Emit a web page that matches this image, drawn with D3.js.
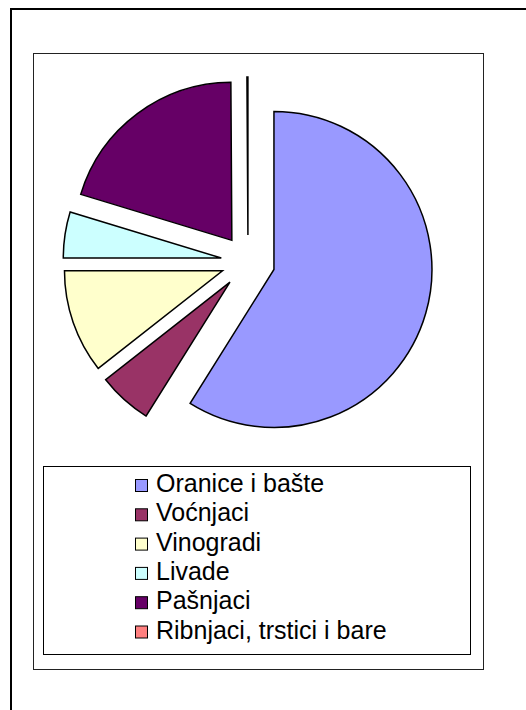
<!DOCTYPE html>
<html>
<head>
<meta charset="utf-8">
<script src="https://cdn.jsdelivr.net/npm/d3@7"></script>
<style>
  html, body { margin: 0; padding: 0; background: #fff; }
  svg { display: block; }
</style>
</head>
<body>
<svg id="chart" width="526" height="710"></svg>
<script>
const categories = ["Oranice i bašte", "Voćnjaci", "Vinogradi", "Livade", "Pašnjaci", "Ribnjaci, trstici i bare"];
const values = [58.9, 5.5, 10.6, 4.7, 20.2, 0.1];
const colors = ["#9999FF", "#993366", "#FFFFCC", "#CCFFFF", "#660066", "#FF8080"];

const svg = d3.select("#chart");

// outer chart frame
svg.append("rect").attr("x", 11).attr("y", 9).attr("width", 560).attr("height", 760)
  .attr("fill", "#fff").attr("stroke", "#000").attr("stroke-width", 2);

// plot area
svg.append("rect").attr("x", 33.5).attr("y", 53.5).attr("width", 450).attr("height", 616)
  .attr("fill", "#fff").attr("stroke", "#222").attr("stroke-width", 1);

const cx = 248, cy = 262, r = 158, explode = 27;
const pie = d3.pie().sort(null).value(d => d);
const arc = d3.arc().innerRadius(0).outerRadius(r);
const arcs = pie(values);

const g = svg.append("g").attr("transform", `translate(${cx},${cy})`);
g.selectAll("path").data(arcs).enter().append("path")
  .attr("d", arc)
  .attr("transform", d => {
    const m = (d.startAngle + d.endAngle) / 2;
    return `translate(${explode * Math.sin(m)},${-explode * Math.cos(m)})`;
  })
  .attr("fill", (d, i) => colors[i])
  .attr("stroke", "#000")
  .attr("stroke-width", 1.5)
  .attr("stroke-linejoin", "miter");

// legend
svg.append("rect").attr("x", 43.5).attr("y", 466.5).attr("width", 427).attr("height", 188)
  .attr("fill", "#fff").attr("stroke", "#000").attr("stroke-width", 1);

const legY = d3.scalePoint().domain(categories).range([492, 638.5]);
const items = svg.selectAll(".leg").data(categories).enter().append("g")
  .attr("transform", d => `translate(0,${legY(d)})`);
items.append("rect").attr("x", 135.5).attr("y", -12.5).attr("width", 12).attr("height", 12)
  .attr("fill", (d, i) => colors[i]).attr("stroke", "#000").attr("stroke-width", 1);
items.append("text").attr("x", 156).attr("y", 0)
  .attr("font-family", "'Liberation Sans', Arial, sans-serif")
  .attr("font-size", "25px").attr("fill", "#000")
  .text(d => d);
</script>
</body>
</html>
